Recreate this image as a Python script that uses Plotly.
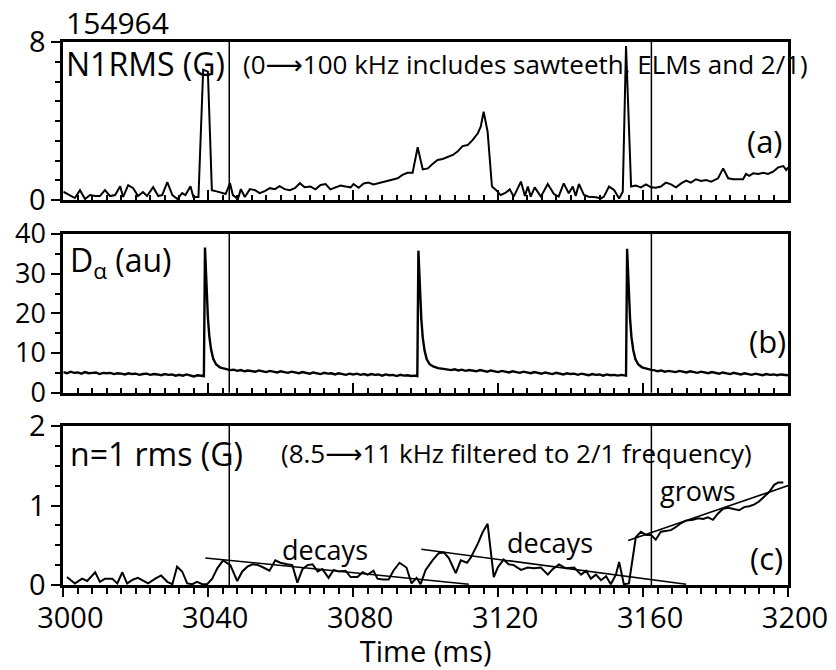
import plotly.graph_objects as go

# ---------------- data ----------------
SHOT = "154964"
EVENT_TIMES = [3045.8, 3162.3]

# (a) N1RMS (G)
n1rms_t = [3000.0, 3001.3, 3003.2, 3004.6, 3006.0, 3007.4, 3008.8, 3010.1, 3011.5, 3012.9,
           3014.3, 3015.7, 3016.5, 3017.9, 3019.3, 3020.6, 3022.0, 3023.1, 3024.8, 3026.2,
           3027.3, 3028.7, 3030.1, 3031.5, 3032.8, 3033.7, 3035.1, 3035.9, 3037.3, 3038.6,
           3039.9, 3041.0, 3042.5, 3043.1, 3044.8, 3046.0, 3046.8, 3048.2, 3049.0, 3050.1,
           3051.5, 3052.9, 3054.2, 3055.6, 3057.0, 3058.4, 3059.7, 3061.1, 3062.5, 3063.9,
           3065.3, 3066.6, 3068.2, 3069.6, 3071.0, 3072.4, 3073.7, 3075.1, 3076.5, 3077.9,
           3079.3, 3080.1, 3081.5, 3082.9, 3084.2, 3085.6, 3087.6, 3089.5, 3090.9, 3092.3,
           3093.6, 3095.0, 3096.4, 3097.8, 3099.2, 3100.6, 3101.9, 3103.3, 3104.7, 3106.1,
           3107.5, 3108.8, 3110.2, 3111.6, 3113.0, 3114.4, 3115.2, 3116.0, 3117.1, 3118.3,
           3119.4, 3120.7, 3122.1, 3123.2, 3124.3, 3126.3, 3127.4, 3128.2, 3129.0, 3130.1,
           3131.8, 3133.7, 3135.4, 3136.7, 3138.1, 3139.5, 3140.6, 3141.4, 3142.3, 3143.7,
           3145.0, 3147.0, 3148.4, 3149.2, 3150.6, 3152.0, 3153.4, 3154.4, 3155.3, 3156.7,
           3158.0, 3159.4, 3160.8, 3162.2, 3163.5, 3164.9, 3166.3, 3167.7, 3169.1, 3170.5,
           3171.9, 3173.2, 3174.6, 3176.0, 3177.4, 3178.8, 3180.7, 3182.1, 3183.5, 3184.9,
           3186.2, 3187.6, 3188.4, 3189.3, 3190.4, 3191.8, 3193.2, 3194.5, 3195.9, 3197.3,
           3198.7, 3199.5, 3200.0]
n1rms_v = [0.42, 0.30, 0.10, 0.50, 0.05, 0.25, 0.20, 0.20, 0.50, 0.20,
           0.25, 0.70, 0.15, 0.75, 0.60, 0.20, 0.40, 0.20, 0.65, 0.20,
           0.25, 0.90, 0.25, 0.05, 0.35, 0.25, 0.70, 0.15, 0.15, 6.60,
           6.50, 0.50, 0.45, 0.40, 0.30, 0.85, 0.25, 0.05, 0.55, 0.15,
           0.55, 0.50, 0.35, 0.45, 0.60, 0.55, 0.70, 0.55, 0.50, 0.60,
           0.85, 0.65, 0.68, 0.54, 0.76, 0.81, 0.54, 0.62, 0.73, 0.68,
           0.64, 0.81, 0.62, 0.84, 0.88, 0.79, 0.88, 0.98, 1.05, 1.10,
           1.27, 1.38, 1.38, 2.67, 1.55, 1.60, 1.82, 2.03, 2.08, 2.19,
           2.28, 2.45, 2.73, 2.78, 3.04, 3.38, 3.71, 4.47, 3.46, 0.68,
           0.51, 0.25, 0.37, 0.54, 0.17, 0.93, 0.20, 0.68, 0.17, 0.64,
           0.17, 0.81, 0.30, 0.17, 0.84, 0.34, 0.68, 0.20, 0.81, 0.25,
           0.17, 0.14, 0.08, 0.17, 0.68, 0.51, 0.08, 0.42, 7.80, 0.68,
           0.73, 0.64, 0.79, 0.64, 0.62, 0.68, 0.88, 0.79, 0.64, 0.84,
           0.98, 0.88, 1.05, 0.96, 1.01, 0.93, 1.10, 1.60, 1.10, 1.05,
           1.06, 1.05, 1.32, 1.22, 1.35, 1.32, 1.38, 1.32, 1.43, 1.65,
           1.72, 1.52, 1.65]

# (b) D-alpha (au): baseline segments sampled every 1 ms, plus ELM spikes
da_base1_start = 3000
da_base1_v = [5.2, 4.9, 5.3, 5.0, 5.1, 4.8, 5.2, 4.9, 5.0, 5.1,
              4.7, 5.0, 4.9, 5.0, 4.7, 4.9, 4.8, 4.6, 4.9, 4.7,
              4.8, 4.5, 4.7, 4.8, 4.5, 4.7, 4.6, 4.4, 4.7, 4.5,
              4.6, 4.3, 4.5, 4.3, 4.6, 4.4, 4.1, 4.4, 4.2]
da_elm1_t = [3038.8, 3039.1, 3039.3, 3039.6, 3039.9, 3040.3, 3040.8, 3041.4, 3042.2, 3043.2, 3044.5, 3046.0]
da_elm1_v = [4.2, 36.6, 31.5, 24.0, 19.0, 14.2, 10.8, 8.5, 7.1, 6.4, 6.0, 5.7]
da_base2_start = 3047
da_base2_v = [5.8, 5.5, 5.7, 5.4, 5.6, 5.5, 5.3, 5.6, 5.4, 5.2,
              5.5, 5.3, 5.1, 5.4, 5.2, 5.0, 5.3, 5.1, 4.9, 5.2,
              5.0, 4.8, 5.1, 4.9, 4.7, 5.0, 4.8, 4.9, 4.6, 4.9,
              4.7, 4.5, 4.8, 4.6, 4.8, 4.5, 4.7, 4.4, 4.7, 4.5,
              4.6, 4.3, 4.6, 4.4, 4.5, 4.2, 4.5, 4.3, 4.4, 4.2, 4.3]
da_elm2_t = [3097.7, 3098.0, 3098.2, 3098.5, 3098.8, 3099.2, 3099.7, 3100.3, 3101.1, 3102.1, 3103.4, 3104.9]
da_elm2_v = [4.2, 35.8, 30.8, 23.5, 18.6, 13.9, 10.6, 8.4, 7.2, 6.6, 6.2, 6.0]
da_base3_start = 3106
da_base3_v = [5.9, 5.7, 5.9, 5.6, 5.8, 5.5, 5.7, 5.6, 5.4, 5.7,
              5.5, 5.3, 5.6, 5.4, 5.2, 5.5, 5.3, 5.1, 5.4, 5.2,
              5.0, 5.3, 5.1, 4.9, 5.2, 5.0, 4.8, 5.1, 4.9, 4.7,
              5.0, 4.8, 4.6, 4.9, 4.7, 4.8, 4.5, 4.8, 4.6, 4.4,
              4.7, 4.5, 4.6, 4.3, 4.6, 4.4, 4.5, 4.3, 4.5, 4.4]
da_elm3_t = [3155.3, 3155.6, 3155.8, 3156.1, 3156.4, 3156.8, 3157.3, 3157.9, 3158.7, 3159.7, 3161.0, 3162.5]
da_elm3_v = [4.3, 36.3, 31.2, 23.8, 18.8, 14.0, 10.7, 8.4, 7.1, 6.4, 6.0, 5.7]
da_base4_start = 3163
da_base4_v = [5.7, 5.4, 5.6, 5.3, 5.5, 5.4, 5.2, 5.5, 5.3, 5.1,
              5.4, 5.2, 5.0, 5.3, 5.1, 4.9, 5.2, 5.0, 4.8, 5.1,
              4.9, 4.7, 5.0, 4.8, 4.6, 4.9, 4.7, 4.5, 4.8, 4.6,
              4.4, 4.7, 4.5, 4.6, 4.4, 4.6, 4.5, 4.4]

# (c) n=1 rms (G), 8.5-11 kHz
n1f_t = [3001.0, 3003.2, 3005.2, 3006.6, 3008.8, 3010.1, 3011.5, 3013.5, 3014.9, 3016.3,
         3017.6, 3019.3, 3020.6, 3022.0, 3023.4, 3025.4, 3027.0, 3028.7, 3030.1, 3031.4,
         3032.8, 3034.2, 3035.6, 3036.9, 3038.4, 3039.7, 3041.1, 3042.5, 3044.1, 3046.1,
         3048.0, 3049.4, 3050.8, 3052.2, 3053.8, 3055.2, 3056.9, 3058.5, 3059.9, 3061.8,
         3063.2, 3064.6, 3066.0, 3067.4, 3068.8, 3070.2, 3071.5, 3073.2, 3074.6, 3076.0,
         3077.9, 3079.3, 3081.2, 3082.6, 3084.0, 3085.6, 3086.7, 3088.1, 3089.8, 3091.1,
         3092.8, 3094.7, 3096.1, 3097.5, 3098.6, 3100.0, 3101.9, 3103.6, 3105.0, 3106.4,
         3108.3, 3109.7, 3111.4, 3112.4, 3114.4, 3115.7, 3117.1, 3118.8, 3119.9, 3121.5,
         3122.9, 3124.3, 3126.3, 3128.2, 3129.9, 3131.8, 3133.7, 3135.1, 3136.8, 3138.7,
         3141.0, 3142.9, 3144.3, 3145.6, 3147.0, 3148.4, 3149.8, 3151.1, 3152.5, 3153.4,
         3154.7, 3156.1, 3158.0, 3159.4, 3160.8, 3162.2, 3163.5, 3164.9, 3166.3, 3167.7,
         3169.1, 3170.5, 3171.9, 3173.8, 3175.2, 3176.6, 3177.9, 3179.3, 3180.7, 3182.1,
         3183.5, 3184.9, 3186.5, 3187.9, 3189.3, 3190.6, 3192.0, 3193.4, 3194.8, 3196.2,
         3197.3, 3198.7]
n1f_v = [0.10, 0.02, 0.08, 0.05, 0.16, 0.04, 0.08, 0.08, 0.02, 0.16,
         0.02, 0.07, 0.09, 0.06, 0.02, 0.08, 0.12, 0.04, 0.01, 0.23,
         0.17, 0.02, 0.01, 0.04, 0.01, 0.01, 0.08, 0.21, 0.31, 0.25,
         0.05, 0.17, 0.23, 0.26, 0.25, 0.22, 0.18, 0.31, 0.28, 0.26,
         0.25, 0.03, 0.20, 0.25, 0.26, 0.17, 0.20, 0.09, 0.19, 0.17,
         0.18, 0.10, 0.10, 0.16, 0.13, 0.18, 0.08, 0.07, 0.07, 0.18,
         0.28, 0.22, 0.02, 0.09, 0.01, 0.19, 0.31, 0.40, 0.41, 0.34,
         0.15, 0.31, 0.28, 0.34, 0.52, 0.66, 0.77, 0.10, 0.22, 0.32,
         0.26, 0.25, 0.19, 0.22, 0.21, 0.22, 0.13, 0.20, 0.26, 0.21,
         0.22, 0.13, 0.18, 0.08, 0.13, 0.06, 0.11, 0.01, 0.13, 0.29,
         0.01, 0.02, 0.60, 0.67, 0.63, 0.63, 0.57, 0.67, 0.68, 0.69,
         0.73, 0.78, 0.81, 0.82, 0.84, 0.83, 0.85, 0.82, 0.90, 0.96,
         0.97, 0.96, 0.94, 0.98, 0.99, 1.01, 1.05, 1.11, 1.17, 1.26,
         1.29, 1.29]

# exponential-rate fits drawn as straight lines (end points)
fit_decay1_t = [3039.2, 3111.9]
fit_decay1_v = [0.34, 0.01]
fit_decay2_t = [3098.8, 3171.9]
fit_decay2_v = [0.45, 0.01]
fit_grow_t = [3155.9, 3205.1]
fit_grow_v = [0.56, 1.33]

X_RANGE = [3000, 3200]
X_MAJOR = [3000, 3040, 3080, 3120, 3160, 3200]


def series(start, vals):
    return [start + i for i in range(len(vals))]


da_t = (series(da_base1_start, da_base1_v) + da_elm1_t + series(da_base2_start, da_base2_v) + da_elm2_t
        + series(da_base3_start, da_base3_v) + da_elm3_t + series(da_base4_start, da_base4_v))
da_v = da_base1_v + da_elm1_v + da_base2_v + da_elm2_v + da_base3_v + da_elm3_v + da_base4_v

# ---------------- figure ----------------
W, H = 836, 670
FONT = "Open Sans"
ARROW = "<span style='font-family:DejaVu Sans'>\u27f6</span>"


def fx(p):
    return p / W


def fy(p):
    return 1 - p / H


X_DOM = [fx(63.3), fx(788)]
DOM_A = [fy(200), fy(42)]
DOM_B = [fy(392.7), fy(234)]
DOM_C = [fy(585), fy(426)]

fig = go.Figure()
line = dict(color="black", width=2)
fig.add_trace(go.Scatter(x=n1rms_t, y=n1rms_v, mode="lines", line=line, xaxis="x", yaxis="y"))
fig.add_trace(go.Scatter(x=da_t, y=da_v, mode="lines", line=dict(color="black", width=2.4), xaxis="x2", yaxis="y2"))
fig.add_trace(go.Scatter(x=n1f_t, y=n1f_v, mode="lines", line=line, xaxis="x3", yaxis="y3"))
for ft, fv in [(fit_decay1_t, fit_decay1_v), (fit_decay2_t, fit_decay2_v), (fit_grow_t, fit_grow_v)]:
    fig.add_trace(go.Scatter(x=ft, y=fv, mode="lines", line=dict(color="black", width=1.6),
                             xaxis="x3", yaxis="y3"))

tickfont = dict(family=FONT, size=29, color="black")


def xaxis(dom_anchor, labels, inside):
    d = dict(domain=X_DOM, range=X_RANGE, anchor=dom_anchor, showgrid=False, zeroline=False,
             automargin=False,
             showline=True, linecolor="black", linewidth=3, mirror=True,
             tickmode="array", tickvals=X_MAJOR, ticks="inside" if inside else "outside",
             ticklen=10 if inside else 9, tickwidth=1.5, tickcolor="black",
             showticklabels=labels, tickfont=tickfont,
             minor=dict(tick0=3000, dtick=4, ticks="inside" if inside else "outside",
                        ticklen=5 if inside else 6, tickwidth=1.5, tickcolor="black"))
    return d


def yaxis(dom, anchor, rng, vals, mdt, size=29):
    return dict(domain=dom, range=rng, anchor=anchor, showgrid=False, zeroline=False,
                automargin=False,
                showline=True, linecolor="black", linewidth=3, mirror=True,
                tickmode="array", tickvals=vals, ticks="outside", ticklen=9, tickwidth=1.5,
                tickcolor="black", tickfont=dict(family=FONT, size=size, color="black"),
                minor=dict(tick0=0, dtick=mdt, ticks="outside", ticklen=5, tickwidth=1.5,
                           tickcolor="black"))


xa3 = xaxis("y3", True, False)
xa3.update(title=dict(text="Time (ms)", font=dict(family=FONT, size=29, color="black"), standoff=7),
           ticklabelshift=7, ticklabelstandoff=-4)

fig.update_layout(
    width=W, height=H, margin=dict(l=0, r=0, t=0, b=0, autoexpand=False),
    paper_bgcolor="white", plot_bgcolor="white", showlegend=False,
    font=dict(family=FONT, color="black"),
    xaxis=xaxis("y", False, True),
    xaxis2=xaxis("y2", False, True),
    xaxis3=xa3,
    yaxis=yaxis(DOM_A, "x", [0, 8], [0, 8], 1),
    yaxis2=yaxis(DOM_B, "x2", [0, 40], [0, 10, 20, 30, 40], 5, size=27),
    yaxis3=yaxis(DOM_C, "x3", [0, 2], [0, 1, 2], 0.25),
)

# event markers (vertical lines) in each panel
for xr, yr in [("x", "y"), ("x2", "y2"), ("x3", "y3")]:
    for t in EVENT_TIMES:
        fig.add_shape(type="line", xref=xr, yref=yr + " domain", x0=t, x1=t, y0=0, y1=1,
                      line=dict(color="black", width=1.5), layer="above")


def label(text, x, y, size, xanchor="left", xref="paper", yref="paper"):
    fig.add_annotation(text=text, x=x, y=y, xref=xref, yref=yref, xanchor=xanchor,
                       yanchor="middle", showarrow=False,
                       font=dict(family=FONT, size=size, color="black"))


label(SHOT, fx(64), fy(22), 30)
label("N1RMS (G)", fx(64), fy(63), 32)
label("(0" + ARROW + "100 kHz includes sawteeth, ELMs and 2/1)", fx(241), fy(64), 26)
label("(a)", fx(785), fy(141), 31, xanchor="right")
label("D<sub>\u03b1</sub> (au)", fx(68), fy(262), 32)
label("(b)", fx(788), fy(341), 31, xanchor="right")
label("n=1 rms (G)", fx(68), fy(453), 32)
label("(8.5" + ARROW + "11 kHz filtered to 2/1 frequency)", fx(279), fy(453), 26)
label("decays", 3072.1, 0.45, 27, xanchor="center", xref="x3", yref="y3")
label("decays", 3134.3, 0.53, 27, xanchor="center", xref="x3", yref="y3")
label("grows", 3175.2, 1.19, 27, xanchor="center", xref="x3", yref="y3")
label("(c)", fx(785), fy(558), 31, xanchor="right")

fig.write_html("out.html", config={"displayModeBar": False},
               post_script="document.body.style.margin='0px';")
